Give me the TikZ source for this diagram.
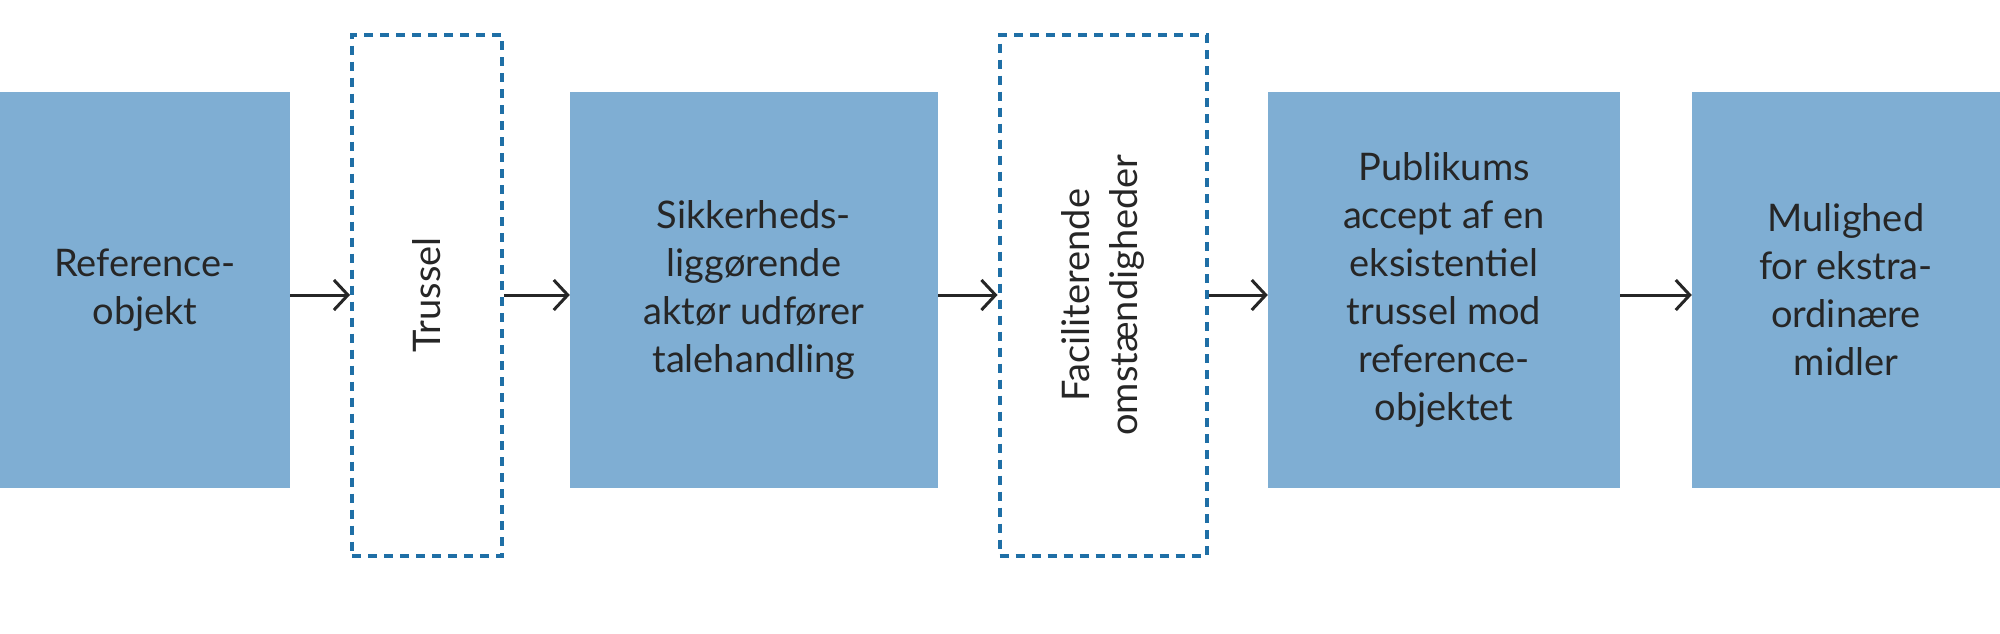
\documentclass[tikz,border=0pt]{standalone}
\usepackage{fontspec}
\setmainfont{Lato}
\usetikzlibrary{arrows.meta}
\definecolor{boxfill}{HTML}{7FAED3}
\definecolor{dashblue}{HTML}{1F6FA6}
\begin{document}
\begin{tikzpicture}[x=1pt,y=-1pt,
  box/.style={fill=boxfill,draw=none,inner sep=0pt,align=center,font=\fontsize{38}{48}\selectfont,text=black!85},
  dbox/.style={draw=dashblue,line width=4pt,dash pattern=on 9pt off 7pt,inner sep=0pt,align=center,font=\fontsize{38}{48}\selectfont,text=black!85},
  arr/.style={-{Straight Barb[length=14pt,width=30pt,line width=3pt]},line width=3pt,black!85}]
\useasboundingbox (0,0) rectangle (2000,633);
\node[box,minimum width=290,minimum height=396] (a) at (145,290) {Reference-\\objekt};
\node[dbox,minimum width=150,minimum height=521] (b) at (427,295) {};
\node[rotate=90,font=\fontsize{38}{48}\selectfont,text=black!85] (bt) at (b.center) {Trussel};
\node[box,minimum width=368,minimum height=396] (c) at (754,290) {Sikkerheds-\\liggørende\\aktør udfører\\talehandling};
\node[dbox,minimum width=207,minimum height=521] (d) at (1103,295) {};
\node[rotate=90,align=center,font=\fontsize{38}{48}\selectfont,text=black!85] (dt) at (d.center) {Faciliterende\\omstændigheder};
\node[box,minimum width=352,minimum height=396] (e) at (1444,290) {Publikums\\accept af en\\eksistentiel\\trussel mod\\reference-\\objektet};
\node[box,minimum width=308,minimum height=396] (f) at (1846,290) {Mulighed\\for ekstra-\\ordinære\\midler};
\draw[arr] (a.east|-0,295) -- (b.west|-0,295);
\draw[arr] (b.east|-0,295) -- (c.west|-0,295);
\draw[arr] (c.east|-0,295) -- (d.west|-0,295);
\draw[arr] (d.east|-0,295) -- (e.west|-0,295);
\draw[arr] (e.east|-0,295) -- (f.west|-0,295);
\end{tikzpicture}
\end{document}
